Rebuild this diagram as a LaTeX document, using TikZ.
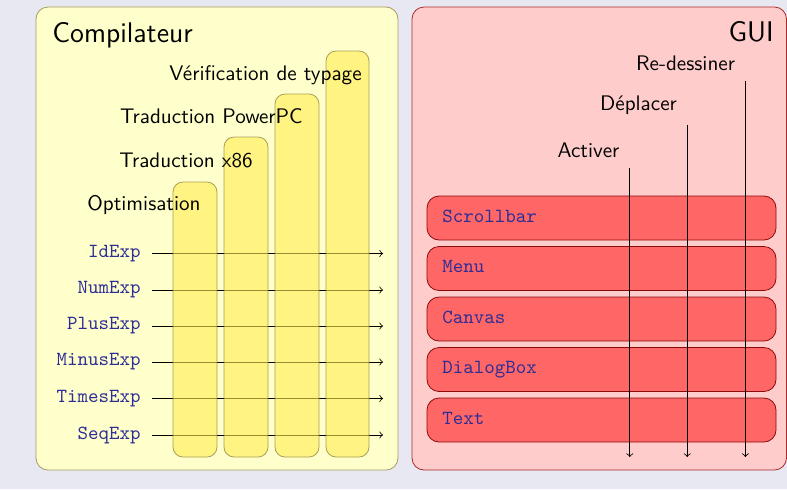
\documentclass[tikz,border=0pt]{standalone}
\usetikzlibrary{calc}
\definecolor{bgc}{RGB}{232,232,243}
\definecolor{compfill}{RGB}{255,255,204}
\definecolor{compdraw}{RGB}{165,155,95}
\definecolor{colfill}{RGB}{255,235,81}
\definecolor{coldraw}{RGB}{110,100,40}
\definecolor{guifill}{RGB}{255,204,204}
\definecolor{guidraw}{RGB}{170,40,40}
\definecolor{boxfill}{RGB}{255,102,102}
\definecolor{boxdraw}{RGB}{140,10,10}
\definecolor{codeblue}{RGB}{45,45,150}
\tikzset{
  panelA/.style={draw=compdraw,fill=compfill,rounded corners=6pt},
  panelB/.style={draw=guidraw,fill=guifill,rounded corners=6pt},
  column/.style={draw=coldraw,fill=colfill,fill opacity=0.6,draw opacity=0.6,rounded corners=5pt},
  gbox/.style={draw=boxdraw,fill=boxfill,rounded corners=6pt},
  stage/.style={font=\sffamily\fontsize{10.55}{12.6}\selectfont,inner sep=0pt,anchor=base east},
  expr/.style={font=\ttfamily,text=codeblue,inner ysep=0pt,inner xsep=5.5pt,anchor=east},
  act/.style={font=\sffamily\fontsize{10.55}{12.6}\selectfont,inner sep=5pt,anchor=base},
  wname/.style={font=\ttfamily,text=codeblue,inner sep=0pt,anchor=base west},
  title/.style={font=\sffamily\fontsize{14.2}{17}\selectfont,inner sep=0pt},
}
\begin{document}
\begin{tikzpicture}[x=0.5pt,y=-0.5pt]
\useasboundingbox[fill=bgc] (0,0) rectangle (787,489);
% panels
\draw[panelA] (36,7) rectangle (398,470);
\draw[panelB] (412,7) rectangle (786.5,470);
\node[title,anchor=base west] (comp) at (52,42) {Compilateur};
\node[title,anchor=base east] (gui) at (774,41) {GUI};
% expression rows
\foreach \n/\t/\y in {e1/IdExp/253.5,e2/NumExp/290,e3/PlusExp/326,e4/MinusExp/362,e5/TimesExp/398.5,e6/SeqExp/435}{
  \node[expr] (\n) at (152,\y) {\t};
  \coordinate (\n end) at (383,\y);
  \draw[->] (\n) -- (\n end);
}
% columns
\draw[column] (173,457) rectangle (217,182);
\draw[column] (224,457) rectangle (268,137);
\draw[column] (275,457) rectangle (319,94);
\draw[column] (326,457) rectangle (369,51);
\node[stage] (s1) at (201,210) {Optimisation};
\node[stage] (s2) at (253,167) {Traduction x86};
\node[stage] (s3) at (303,123) {Traduction PowerPC};
\node[stage] (s4) at (362,80) {V\'erification de typage};
% GUI widgets
\foreach \n/\t/\y in {w1/Scrollbar/196,w2/Menu/246.5,w3/Canvas/297,w4/DialogBox/347.5,w5/Text/398}{
  \draw[gbox] (427,\y) rectangle (776,\y+44);
  \node[wname] (\n) at (442,\y+26) {\t};
}
% actions
\node[act] (a1) at (588.5,157) {Activer};
\node[act] (a2) at (638.5,110) {D\'eplacer};
\node[act] (a3) at (685.5,70) {Re-dessiner};
\coordinate (bot) at (0,457);
\foreach \a in {a1,a2,a3}{
  \draw[->] (\a.south east) -- (\a.south east |- bot);
}
\end{tikzpicture}
\end{document}
